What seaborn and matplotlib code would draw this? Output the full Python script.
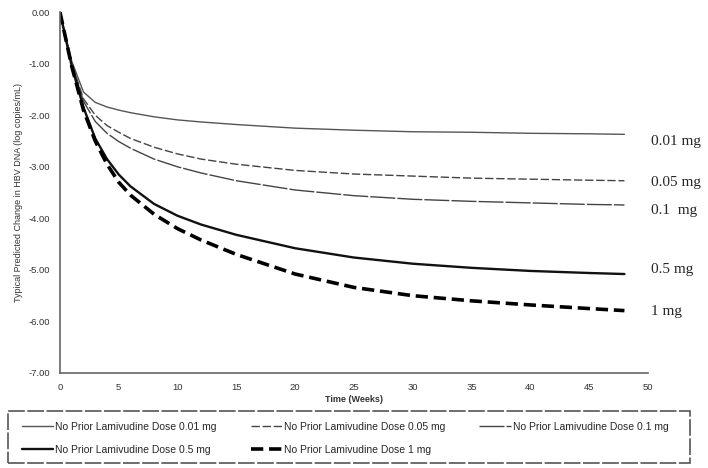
import numpy as np
import pandas as pd
import matplotlib
matplotlib.use("Agg")
import matplotlib.pyplot as plt
from matplotlib.patches import Rectangle
import seaborn as sns

weeks = [0, 1, 2, 3, 4, 5, 6, 8, 10, 12, 15, 20, 25, 30, 35, 40, 45, 48]
dose_001 = [0, -0.95, -1.55, -1.75, -1.84, -1.90, -1.95, -2.03, -2.09, -2.13, -2.18, -2.25, -2.29, -2.32, -2.33, -2.35, -2.36, -2.37]
dose_005 = [0, -1.00, -1.68, -2.00, -2.20, -2.33, -2.45, -2.62, -2.75, -2.85, -2.95, -3.07, -3.14, -3.18, -3.22, -3.24, -3.26, -3.27]
dose_01 = [0, -1.00, -1.73, -2.12, -2.35, -2.51, -2.64, -2.85, -3.00, -3.12, -3.27, -3.45, -3.56, -3.63, -3.67, -3.70, -3.73, -3.74]
dose_05 = [0, -1.05, -1.85, -2.45, -2.85, -3.15, -3.38, -3.72, -3.95, -4.12, -4.32, -4.58, -4.76, -4.88, -4.96, -5.02, -5.06, -5.08]
dose_1 = [0, -1.05, -1.90, -2.50, -2.95, -3.30, -3.55, -3.92, -4.20, -4.42, -4.70, -5.08, -5.34, -5.50, -5.60, -5.68, -5.75, -5.79]

legend_labels = ["No Prior Lamivudine Dose 0.01 mg", "No Prior Lamivudine Dose 0.05 mg",
                 "No Prior Lamivudine Dose 0.1 mg", "No Prior Lamivudine Dose 0.5 mg",
                 "No Prior Lamivudine Dose 1 mg"]
end_labels = ["0.01 mg", "0.05 mg", "0.1  mg", "0.5 mg", "1 mg"]
series = [dose_001, dose_005, dose_01, dose_05, dose_1]

styles = [
    dict(color="#555555", lw=1.0, ls="-"),
    dict(color="#444444", lw=1.0, ls=(0, (6, 2))),
    dict(color="#444444", lw=1.0, ls=(0, (18, 1.5))),
    dict(color="#111111", lw=1.7, ls="-"),
    dict(color="#000000", lw=2.6, ls=(0, (3.4, 1.6))),
]

sns.set_theme(style="white")
plt.rcParams["font.family"] = ["Liberation Sans", "DejaVu Sans"]

W, H = 708, 468
fig = plt.figure(figsize=(W / 100, H / 100), dpi=100)
ax = fig.add_axes([0.0847, 0.203, 0.8305, 0.771])

for vals, lab, st in zip(series, legend_labels, styles):
    df = pd.DataFrame({"week": weeks, "change": vals})
    sns.lineplot(data=df, x="week", y="change", ax=ax, label=lab,
                 color=st["color"], linewidth=st["lw"], linestyle=st["ls"])

ax.set_xlim(0, 50)
ax.set_ylim(-7, 0)
ax.set_xticks(np.arange(0, 51, 5))
ax.set_yticks(np.arange(-7, 0.01, 1))
ax.set_yticklabels([f"{v:.2f}" for v in np.arange(-7, 0.01, 1)])
ax.tick_params(axis="both", labelsize=6.8, colors="#333333", length=3, width=0.8)
ax.tick_params(axis="x", direction="inout", pad=6)
ax.tick_params(axis="y", direction="out", pad=4)
for s in ["top", "right"]:
    ax.spines[s].set_visible(False)
for s in ["left", "bottom"]:
    ax.spines[s].set_color("#666666")
    ax.spines[s].set_linewidth(1.2)

ax.set_xlabel("Time (Weeks)", fontsize=6.5, fontweight="bold", color="#333333", labelpad=2)
ax.set_ylabel("Typical Predicted Change in HBV DNA (log copies/mL)", fontsize=6.5, color="#333333", labelpad=4)

end_y = [-2.5, -3.3, -3.85, -5.0, -5.8]
for yv, txt in zip(end_y, end_labels):
    ax.text(50.3, yv, txt, fontsize=11, family=["Liberation Serif", "DejaVu Serif"],
            va="center", ha="left", clip_on=False)

handles, labels = ax.get_legend_handles_labels()
ax.get_legend().remove()
# legend fills columns first; reorder so entries read across rows
order = [0, 3, 1, 4, 2]
fig.legend([handles[i] for i in order], [labels[i] for i in order],
           ncol=3, loc="upper left", bbox_to_anchor=(22 / W, 1 - 422 / H),
           fontsize=7.5, frameon=False, handlelength=3.0,
           handletextpad=0.2, borderaxespad=0, labelspacing=1.25,
           columnspacing=3.25, borderpad=0)

# dashed box around the legend
fig.patches.append(Rectangle((8 / W, 5 / H), 682 / W, 52 / H, transform=fig.transFigure,
                             fill=False, edgecolor="#555555", linewidth=1.2,
                             linestyle=(0, (10, 1.5))))

fig.savefig("out.png", dpi=100)
